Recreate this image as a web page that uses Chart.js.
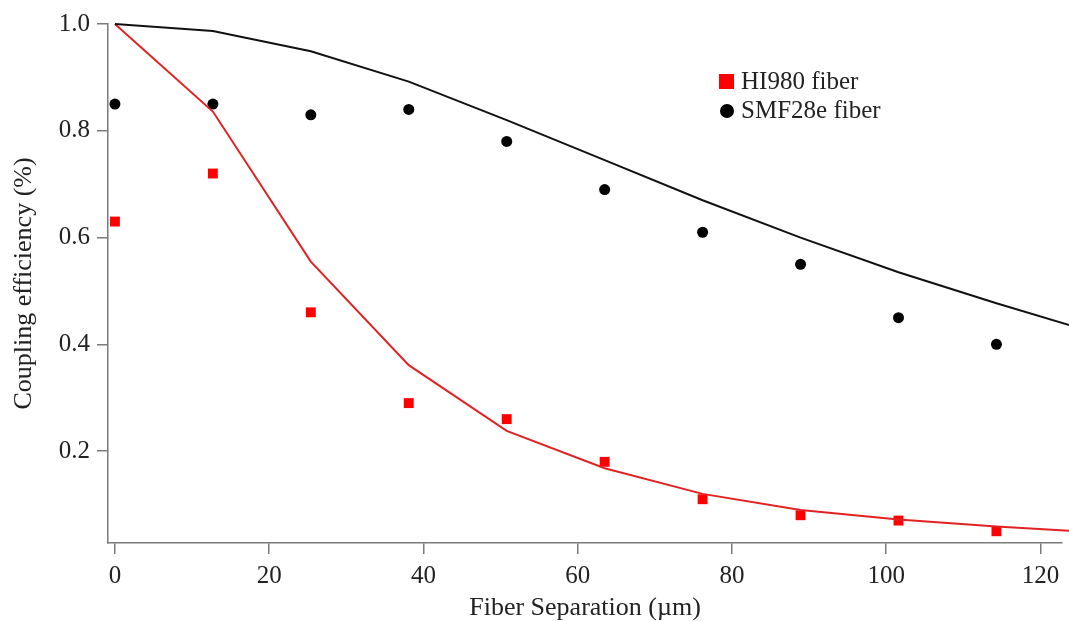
<!DOCTYPE html>
<html lang="en">
<head>
    <meta charset="UTF-8">
    <title>Coupling efficiency vs fiber separation</title>
    <script src="https://cdn.jsdelivr.net/npm/chart.js"></script>
    <style>
        html, body {
            margin: 0;
            padding: 0;
            background: #fff;
        }
        .chart-container {
            position: relative;
            width: 1069px;
            height: 621px;
        }
    </style>
</head>
<body>
    <div class="chart-container">
        <canvas id="couplingChart"></canvas>
    </div>

    <script>
        // Measured points (fiber separation in um)
        var separation = [0, 12.7, 25.4, 38.1, 50.8, 63.5, 76.2, 88.9, 101.6, 114.3];
        var hi980Measured = [0.63, 0.72, 0.46, 0.29, 0.26, 0.18, 0.11, 0.08, 0.07, 0.05];
        var smf28eMeasured = [0.85, 0.85, 0.83, 0.84, 0.78, 0.69, 0.61, 0.55, 0.45, 0.40];

        // Theory curves
        var fitSeparation = [0, 12.7, 25.4, 38.1, 50.8, 63.5, 76.2, 88.9, 101.6, 114.3, 127];
        var hi980Theory = [1.0, 0.836, 0.555, 0.361, 0.238, 0.168, 0.12, 0.09, 0.072, 0.059, 0.048];
        var smf28eTheory = [1.0, 0.987, 0.949, 0.892, 0.82, 0.745, 0.67, 0.6, 0.535, 0.477, 0.422];

        var xTicks = [0, 20, 40, 60, 80, 100, 120];
        var yTicks = [0.2, 0.4, 0.6, 0.8, 1.0];

        var legendLabels = ['HI980 fiber', 'SMF28e fiber'];

        function toPoints(xs, ys) {
            return xs.map(function (x, i) { return {x: x, y: ys[i]}; });
        }

        var serif = "'Liberation Serif', 'Times New Roman', serif";
        var axisGray = '#7a7a7a';
        var textColor = '#222';
        var fontSize = 25;
        var titleSize = 26;

        // legend drawn inside the plot area, markers only
        var plotLegend = {
            id: 'plotLegend',
            afterDraw: function (chart) {
                var ctx = chart.ctx;
                ctx.save();
                ctx.font = fontSize + 'px ' + serif;
                ctx.textBaseline = 'middle';
                ctx.textAlign = 'left';

                ctx.fillStyle = '#ff0000';
                ctx.fillRect(719, 74, 15, 15);
                ctx.fillStyle = textColor;
                ctx.fillText(legendLabels[0], 741, 82);

                ctx.fillStyle = '#000';
                ctx.beginPath();
                ctx.arc(727, 111, 7, 0, Math.PI * 2);
                ctx.fill();
                ctx.fillStyle = textColor;
                ctx.fillText(legendLabels[1], 741, 111);
                ctx.restore();
            }
        };

        var ctx = document.getElementById('couplingChart').getContext('2d');
        var chart = new Chart(ctx, {
            type: 'scatter',
            data: {
                datasets: [
                    {
                        label: 'SMF28e theory',
                        data: toPoints(fitSeparation, smf28eTheory),
                        showLine: true,
                        borderColor: '#111',
                        borderWidth: 2,
                        pointRadius: 0,
                        tension: 0,
                        clip: false
                    },
                    {
                        label: 'HI980 theory',
                        data: toPoints(fitSeparation, hi980Theory),
                        showLine: true,
                        borderColor: '#e02222',
                        borderWidth: 2,
                        pointRadius: 0,
                        tension: 0,
                        clip: false
                    },
                    {
                        label: legendLabels[0],
                        data: toPoints(separation, hi980Measured),
                        pointStyle: 'rect',
                        pointRadius: 7,
                        backgroundColor: '#ff0000',
                        borderColor: '#ff0000',
                        borderWidth: 0,
                        clip: false
                    },
                    {
                        label: legendLabels[1],
                        data: toPoints(separation, smf28eMeasured),
                        pointStyle: 'circle',
                        pointRadius: 5.5,
                        backgroundColor: '#000',
                        borderColor: '#000',
                        borderWidth: 0,
                        clip: false
                    }
                ]
            },
            options: {
                responsive: true,
                maintainAspectRatio: false,
                animation: false,
                layout: {
                    padding: {top: 24, right: 0, bottom: 0, left: 0}
                },
                plugins: {
                    legend: {display: false},
                    tooltip: {enabled: false}
                },
                scales: {
                    x: {
                        type: 'linear',
                        min: -0.9,
                        max: 122.8,
                        afterFit: function (scale) { scale.height = 78; },
                        afterBuildTicks: function (scale) {
                            scale.ticks = xTicks.map(function (v) { return {value: v}; });
                        },
                        border: {color: axisGray, width: 1.5},
                        grid: {
                            drawOnChartArea: false,
                            drawTicks: true,
                            tickLength: 11,
                            color: axisGray,
                            lineWidth: 1.5
                        },
                        ticks: {
                            color: textColor,
                            padding: 7,
                            maxRotation: 0,
                            font: {family: serif, size: fontSize},
                            callback: function (v) { return v; }
                        },
                        title: {
                            display: true,
                            text: 'Fiber Separation (\u00b5m)',
                            color: textColor,
                            font: {family: serif, size: titleSize, lineHeight: 1.0},
                            padding: {top: 0, bottom: 0}
                        }
                    },
                    y: {
                        type: 'linear',
                        min: 0.028,
                        max: 1.0,
                        afterFit: function (scale) { scale.width = 108; },
                        afterBuildTicks: function (scale) {
                            scale.ticks = yTicks.map(function (v) { return {value: v}; });
                        },
                        border: {color: axisGray, width: 1.5},
                        grid: {
                            drawOnChartArea: false,
                            drawTicks: true,
                            tickLength: 11,
                            color: axisGray,
                            lineWidth: 1.5
                        },
                        ticks: {
                            color: textColor,
                            padding: 7,
                            font: {family: serif, size: fontSize},
                            callback: function (v) { return v.toFixed(1); }
                        },
                        title: {
                            display: true,
                            text: 'Coupling efficiency (%)',
                            color: textColor,
                            font: {family: serif, size: titleSize, lineHeight: 1.2},
                            padding: {top: 9, bottom: 0}
                        }
                    }
                }
            },
            plugins: [plotLegend]
        });
    </script>
</body>
</html>
